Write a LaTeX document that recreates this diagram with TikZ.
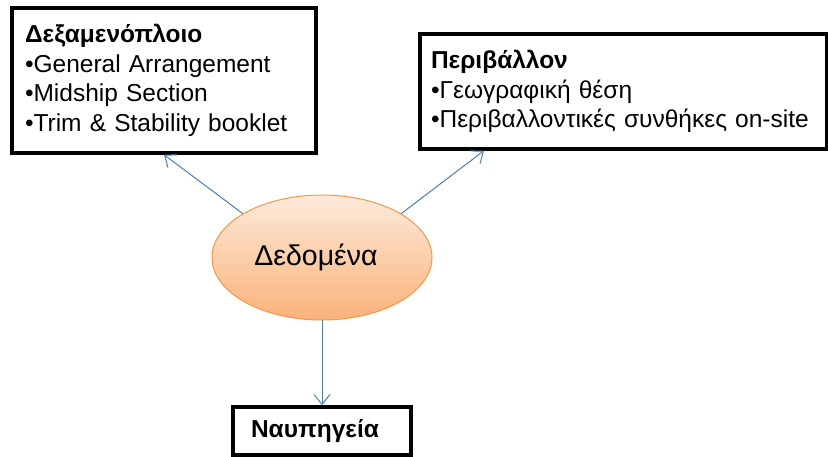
\documentclass[tikz,border=0pt]{standalone}
\usepackage{fontspec}
\setmainfont{Liberation Sans}
\usetikzlibrary{shapes.geometric,arrows.meta}
\definecolor{linkblue}{HTML}{4A7EBB}
\definecolor{dataline}{HTML}{F79646}
\definecolor{datatop}{HTML}{FDEADB}
\definecolor{databot}{HTML}{FAB27A}
\newcommand{\bul}{\textbullet}

\begin{document}
\begin{tikzpicture}[x=1pt,y=-1pt,
  every node/.style={font=\fontsize{24.5}{29.5}\selectfont},
  box/.style={draw, line width=3.5pt, align=left, inner ysep=0pt},
  data/.style={ellipse, draw=dataline, line width=1pt, top color=datatop, bottom color=databot,
    minimum width=220pt, minimum height=125pt, inner sep=0pt, font=\fontsize{28.5}{34}\selectfont},
  link/.style={draw=linkblue, line width=1pt, -{Straight Barb[length=10pt,width=16pt]}}]
\useasboundingbox (0,0) rectangle (828,457);
\node[box, text width=278pt, inner xsep=13pt, minimum height=145pt] (tank) at (164,80.5)
  {\textbf{Δεξαμενόπλοιο}\\
   \bul General Arrangement\\
   \bul Midship Section\\
   \bul Trim \& Stability booklet};
\node[box, text width=385pt, inner xsep=11pt, minimum height=115pt] (env) at (623.5,91.5)
  {\textbf{Περιβάλλον}\\
   \bul Γεωγραφική θέση\\
   \bul Περιβαλλοντικές συνθήκες on-site};
\node[data] (dat) at (322,257.5) {Δεδομένα\hspace*{12pt}};
\node[box, text width=142pt, inner xsep=18pt, minimum height=48pt] (yard) at (322,431)
  {\textbf{Ναυπηγεία}};
\draw[link] (dat.151) -- (tank.south);
\draw[link] (dat.29) -- (env.203);
\draw[link] (dat.south) -- (yard.north);
\end{tikzpicture}
\end{document}
